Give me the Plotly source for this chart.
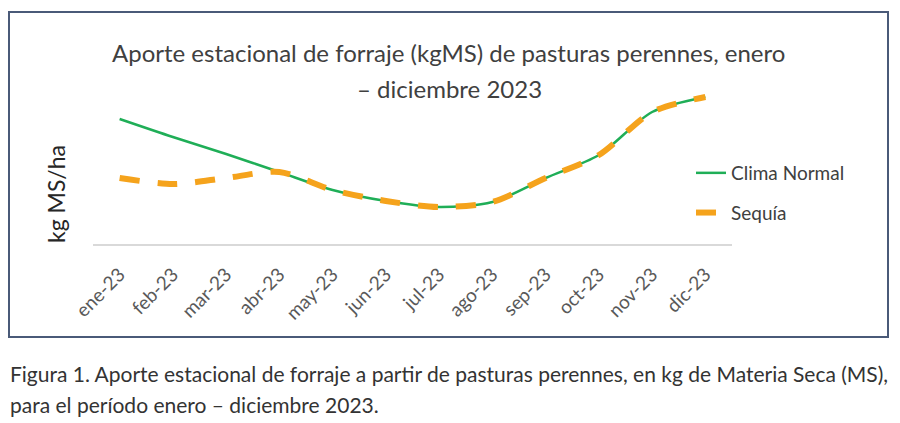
import plotly.graph_objects as go

months = ["ene-23", "feb-23", "mar-23", "abr-23", "may-23", "jun-23",
          "jul-23", "ago-23", "sep-23", "oct-23", "nov-23", "dic-23"]
clima_normal = [125, 107, 90, 72, 54, 43, 37, 42, 66, 89, 132, 147]
sequia = [66, 60, 66, 72, 54, 43, 37, 42, 66, 89, 132, 147]

W, H = 900, 423
L, R, T, B = 93, 168, 60, 179
PW, PH = W - L - R, H - T - B
FONT = "Lato"


def px(x):
    return (x - L) / PW


def py(y):
    return (H - B - y) / PH


fig = go.Figure()
fig.add_trace(go.Scatter(
    x=months, y=clima_normal, name="Clima Normal", mode="lines",
    line=dict(color="#1FAE57", width=2.5, shape="spline", smoothing=0.8),
    legendgroup="a"))
fig.add_trace(go.Scatter(
    x=months, y=sequia, name="Sequía", mode="lines",
    line=dict(color="#F5A31C", width=6, shape="spline", smoothing=0.8,
              dash="20px,18px"),
    legendgroup="b"))

fig.update_layout(
    width=W, height=H,
    margin=dict(l=L, r=R, t=T, b=B),
    paper_bgcolor="white", plot_bgcolor="white",
    font=dict(family=FONT, color="#404040"),
    showlegend=True,
    legend=dict(x=px(691), y=py(154), xanchor="left", yanchor="top",
                font=dict(size=19, color="#404040"),
                tracegroupgap=12, bgcolor="rgba(0,0,0,0)"),
    xaxis=dict(range=[-0.5, 11.5], showgrid=False, zeroline=False,
               showline=True, linecolor="#D9D9D9", linewidth=2,
               ticks="", tickangle=-45, ticklabelstandoff=10,
               tickfont=dict(size=19, color="#595959")),
    yaxis=dict(range=[0, PH], showgrid=False, zeroline=False,
               showline=False, showticklabels=False, ticks=""),
)

fig.add_shape(type="rect", xref="paper", yref="paper",
              x0=px(9), x1=px(888), y0=py(337), y1=py(12),
              line=dict(color="#4A5A78", width=2), fillcolor="rgba(0,0,0,0)",
              layer="below")

fig.add_annotation(text="Aporte estacional de forraje (kgMS) de pasturas perennes, enero",
                   xref="paper", yref="paper", x=px(448), y=py(53),
                   xanchor="center", yanchor="middle", showarrow=False,
                   font=dict(size=24, color="#404040"))
fig.add_annotation(text="– diciembre 2023",
                   xref="paper", yref="paper", x=px(449), y=py(88),
                   xanchor="center", yanchor="middle", showarrow=False,
                   font=dict(size=24, color="#404040"))
fig.add_annotation(text="kg MS/ha", textangle=-90,
                   xref="paper", yref="paper", x=px(56), y=py(194),
                   xanchor="center", yanchor="middle", showarrow=False,
                   font=dict(size=23, color="#262626"))
fig.add_annotation(text="Figura 1. Aporte estacional de forraje a partir de pasturas perennes, en kg de Materia Seca (MS),",
                   xref="paper", yref="paper", x=px(8), y=py(373),
                   xanchor="left", yanchor="middle", showarrow=False,
                   font=dict(size=21, color="#333333"))
fig.add_annotation(text="para el período enero – diciembre 2023.",
                   xref="paper", yref="paper", x=px(8), y=py(404),
                   xanchor="left", yanchor="middle", showarrow=False,
                   font=dict(size=21, color="#333333"))

fig.write_html("out.html", config={"displayModeBar": False},
               post_script="document.body.style.margin='0';")
